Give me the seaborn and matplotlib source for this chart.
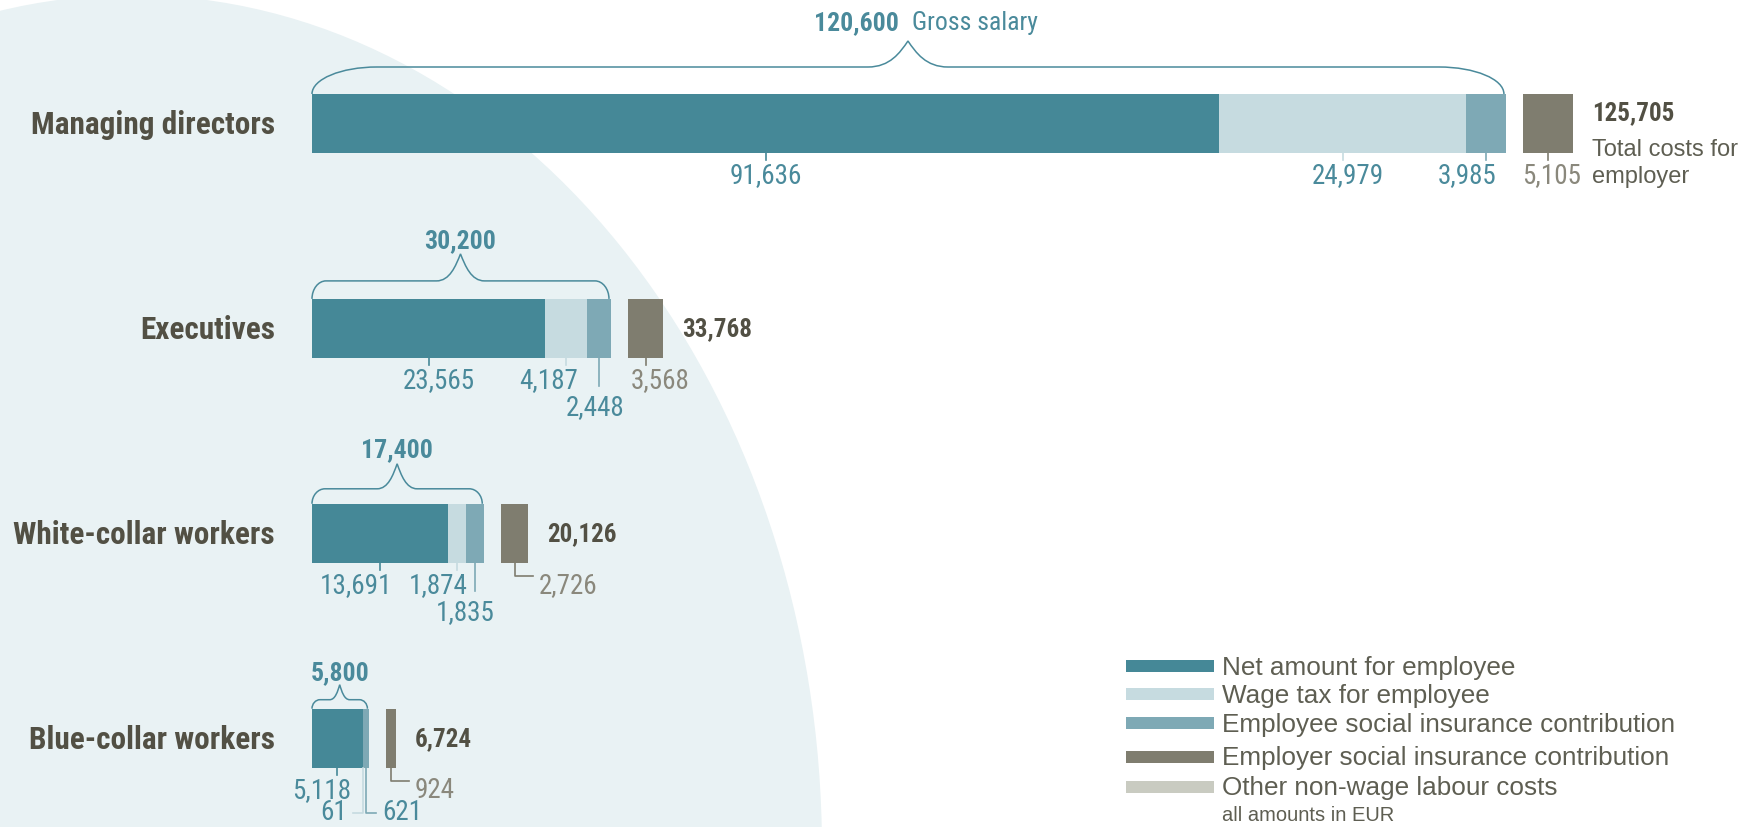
import matplotlib
matplotlib.use("Agg")
import pandas as pd
import matplotlib.pyplot as plt
import matplotlib.transforms as mtransforms
import seaborn as sns
from matplotlib import font_manager
from matplotlib.path import Path
from matplotlib.patches import PathPatch, Ellipse, Rectangle

# values in EUR
groups = ["Managing directors", "Executives", "White-collar workers", "Blue-collar workers"]
net_amount = [91636, 23565, 13691, 5118]
wage_tax = [24979, 4187, 1874, 61]
employee_si = [3985, 2448, 1835, 621]
employer_si = [5105, 3568, 2726, 924]
gross_salary = [120600, 30200, 17400, 5800]
total_costs = [125705, 33768, 20126, 6724]

legend_labels = ["Net amount for employee", "Wage tax for employee",
                 "Employee social insurance contribution",
                 "Employer social insurance contribution",
                 "Other non-wage labour costs"]

# colours
C_NET = "#458897"
C_TAX = "#c6dbe0"
C_SI = "#7ea9b5"
C_EMP = "#7f7d6f"
C_OTHER = "#c9cbc1"
C_BG = "#e9f2f4"
C_TEAL = "#4a8a9b"
C_GREY = "#8a887c"
C_DARK = "#525044"
C_LEG = "#5e5e52"

available = {f.name for f in font_manager.fontManager.ttflist}


def pick(*names):
    for n in names:
        if n in available:
            return n
    return "DejaVu Sans"


NARROW = pick("Liberation Sans Narrow", "Roboto Condensed", "Liberation Sans")
REG = pick("Liberation Sans", "Roboto")

# layout (pixels of the 1751x827 canvas)
W, H = 1751, 827
X0 = 312          # pixel of 0 EUR
K = 0.0099        # pixel per EUR
Y0 = 123.5        # pixel centre of first bar
U = 204.9         # pixel step between bars
BAR_H = 59
GAP = 17          # gap between gross bar and employer bar


def dx(p):
    return p / K


def dy(p):
    return p / U


df = pd.DataFrame({"group": groups, "net": net_amount, "tax": wage_tax,
                   "si": employee_si, "emp": employer_si})
df["left_tax"] = df["net"]
df["left_si"] = df["net"] + df["tax"]
df["left_emp"] = df["net"] + df["tax"] + df["si"] + dx(GAP)

fig = plt.figure(figsize=(W / 100, H / 100), dpi=100)
ax = fig.add_axes([0, 0, 1, 1])
ax.set_facecolor("white")
pix = mtransforms.Affine2D().scale(1 / W, -1 / H).translate(0, 1) + ax.transAxes

# background shape
ax.add_patch(Ellipse((132, 850), 1380, 1710, transform=pix, facecolor=C_BG,
                     edgecolor="none", zorder=0))

bw = BAR_H / U
common = dict(y="group", orient="h", width=bw, saturation=1, errorbar=None,
              linewidth=0, ax=ax, zorder=2)
sns.barplot(data=df, x="net", color=C_NET, **common)
sns.barplot(data=df, x="tax", color=C_TAX, left=df["left_tax"].values, **common)
sns.barplot(data=df, x="si", color=C_SI, left=df["left_si"].values, **common)
sns.barplot(data=df, x="emp", color=C_EMP, left=df["left_emp"].values, **common)

ax.set_xlim(-X0 / K, (W - X0) / K)
ax.set_ylim((H - Y0) / U, -Y0 / U)
ax.set_axis_off()

# brace shape per row: line height, tip height, corner width, cusp width, label gap
brace_style = [(27, 53, 65, 40, 11), (18, 45, 14, 24, 6), (15, 40, 13, 20, 7), (9, 24, 8, 10, 5)]


def brace(xl, xr, ytop, h1, h2, c, w):
    xm = (xl + xr) / 2
    yl = ytop - dy(h1)
    yt = ytop - dy(h2)
    cx, wx = dx(c), dx(w)
    k = 0.552
    verts = [(xl, ytop),
             (xl, ytop - dy(h1) * k), (xl + cx * (1 - k), yl), (xl + cx, yl),
             (xm - wx, yl),
             (xm - wx * 0.45, yl), (xm - wx * 0.2, yl - dy(h2 - h1) * 0.55), (xm, yt),
             (xm + wx * 0.2, yl - dy(h2 - h1) * 0.55), (xm + wx * 0.45, yl), (xm + wx, yl),
             (xr - cx, yl),
             (xr - cx * (1 - k), yl), (xr, ytop - dy(h1) * k), (xr, ytop)]
    codes = [Path.MOVETO] + [Path.CURVE4] * 3 + [Path.LINETO] + [Path.CURVE4] * 6 + \
            [Path.LINETO] + [Path.CURVE4] * 3
    ax.add_patch(PathPatch(Path(verts, codes), facecolor="none", edgecolor=C_TEAL,
                           lw=1.1, zorder=3))
    return xm, yt


# value label layout: (segment, row, style, text shift in px)
label_layout = [
    [(0, 1, "tick", 0), (1, 1, "tick", 5), (2, 1, "tick", -19), (3, 1, "tick", 3)],
    [(0, 1, "tick", 10), (1, 1, "tick", -17), (2, 2, "tick", -4), (3, 1, "tick", 14)],
    [(0, 1, "tick", -24), (1, 1, "tick", -19), (2, 2, "tick", -10), (3, 1, "elbow_r", 0)],
    [(0, 1, "tick", -16), (1, 2, "elbow_l", 0), (2, 2, "elbow_r", 0), (3, 1, "elbow_r", 0)],
]
seg_colors = [C_NET, C_TAX, C_SI, C_EMP]

for i, g in enumerate(groups):
    top = i - bw / 2
    bottom = i + bw / 2
    starts = [0, df["left_tax"][i], df["left_si"][i], df["left_emp"][i]]
    vals = [net_amount[i], wage_tax[i], employee_si[i], employer_si[i]]
    gross_end = gross_salary[i]
    emp_end = df["left_emp"][i] + employer_si[i]

    # category label
    ax.text(dx(275 - X0), i + dy(10.5), g, ha="right", va="baseline",
            fontsize=22.5, fontweight="bold", color=C_DARK, family=NARROW)

    # brace + gross value
    h1, h2, c, w, lg = brace_style[i]
    xm, yt = brace(0, gross_end - dx(2), top, h1, h2, c, w)
    gross_txt = f"{gross_salary[i]:,}"
    if i == 0:
        ax.text(xm - dx(9), yt - dy(lg), gross_txt, ha="right", va="baseline",
                fontsize=18.5, fontweight="bold", color=C_TEAL, family=NARROW)
        ax.text(xm + dx(4), yt - dy(lg), "Gross salary", ha="left", va="baseline",
                fontsize=18.5, color=C_TEAL, family=NARROW)
    else:
        ax.text(xm, yt - dy(lg), gross_txt, ha="center", va="baseline",
                fontsize=18.5, fontweight="bold", color=C_TEAL, family=NARROW)

    # total costs
    if i == 0:
        ax.text(emp_end + dx(19), top + dy(26), f"{total_costs[i]:,}", ha="left",
                va="baseline", fontsize=18, fontweight="bold", color=C_DARK, family=NARROW)
        ax.text(emp_end + dx(19), top + dy(62), "Total costs for", ha="left",
                va="baseline", fontsize=17, color=C_LEG, family=REG)
        ax.text(emp_end + dx(19), top + dy(89), "employer", ha="left",
                va="baseline", fontsize=17, color=C_LEG, family=REG)
    else:
        ax.text(emp_end + dx(19), i + dy(8), f"{total_costs[i]:,}", ha="left",
                va="baseline", fontsize=18, fontweight="bold", color=C_DARK, family=NARROW)

    # segment value labels
    for seg, row, style, shift in label_layout[i]:
        xc = starts[seg] + vals[seg] / 2
        col = seg_colors[seg]
        tcol = C_GREY if seg == 3 else C_TEAL
        txt = f"{vals[seg]:,}"
        if style == "tick":
            base = bottom + dy(30 if row == 1 else 57)
            end = bottom + dy(7 if row == 1 else 28)
            ax.plot([xc, xc], [bottom, end], color=col, lw=1.2, zorder=3)
            ax.text(xc + dx(shift), base, txt, ha="center", va="baseline",
                    fontsize=19.5, color=tcol, family=NARROW)
        else:
            base = bottom + dy(30 if row == 1 else 52)
            depth = 13 if row == 1 else 45
            arm = 18 if row == 1 else 10
            sgn = 1 if style == "elbow_r" else -1
            yb = bottom + dy(depth)
            ax.plot([xc, xc, xc + sgn * dx(arm)], [bottom, yb, yb], color=col,
                    lw=1.2, zorder=3)
            ax.text(xc + sgn * dx(arm + 6), base, txt,
                    ha="left" if sgn > 0 else "right", va="baseline",
                    fontsize=19.5, color=tcol, family=NARROW)

# legend
leg_colors = [C_NET, C_TAX, C_SI, C_EMP, C_OTHER]
leg_rows = [665.5, 693.5, 723.0, 756.5, 786.5]
for lab, col, cy in zip(legend_labels, leg_colors, leg_rows):
    ax.add_patch(Rectangle((1126, cy - 6), 88, 12, transform=pix, facecolor=col,
                           edgecolor="none", zorder=3))
    ax.text(1222, cy + 9, lab, transform=pix, ha="left", va="baseline",
            fontsize=18.8, color=C_LEG, family=REG)
ax.text(1222, 821, "all amounts in EUR", transform=pix, ha="left", va="baseline",
        fontsize=14.5, color=C_LEG, family=REG)

fig.savefig("out.png", dpi=100)
